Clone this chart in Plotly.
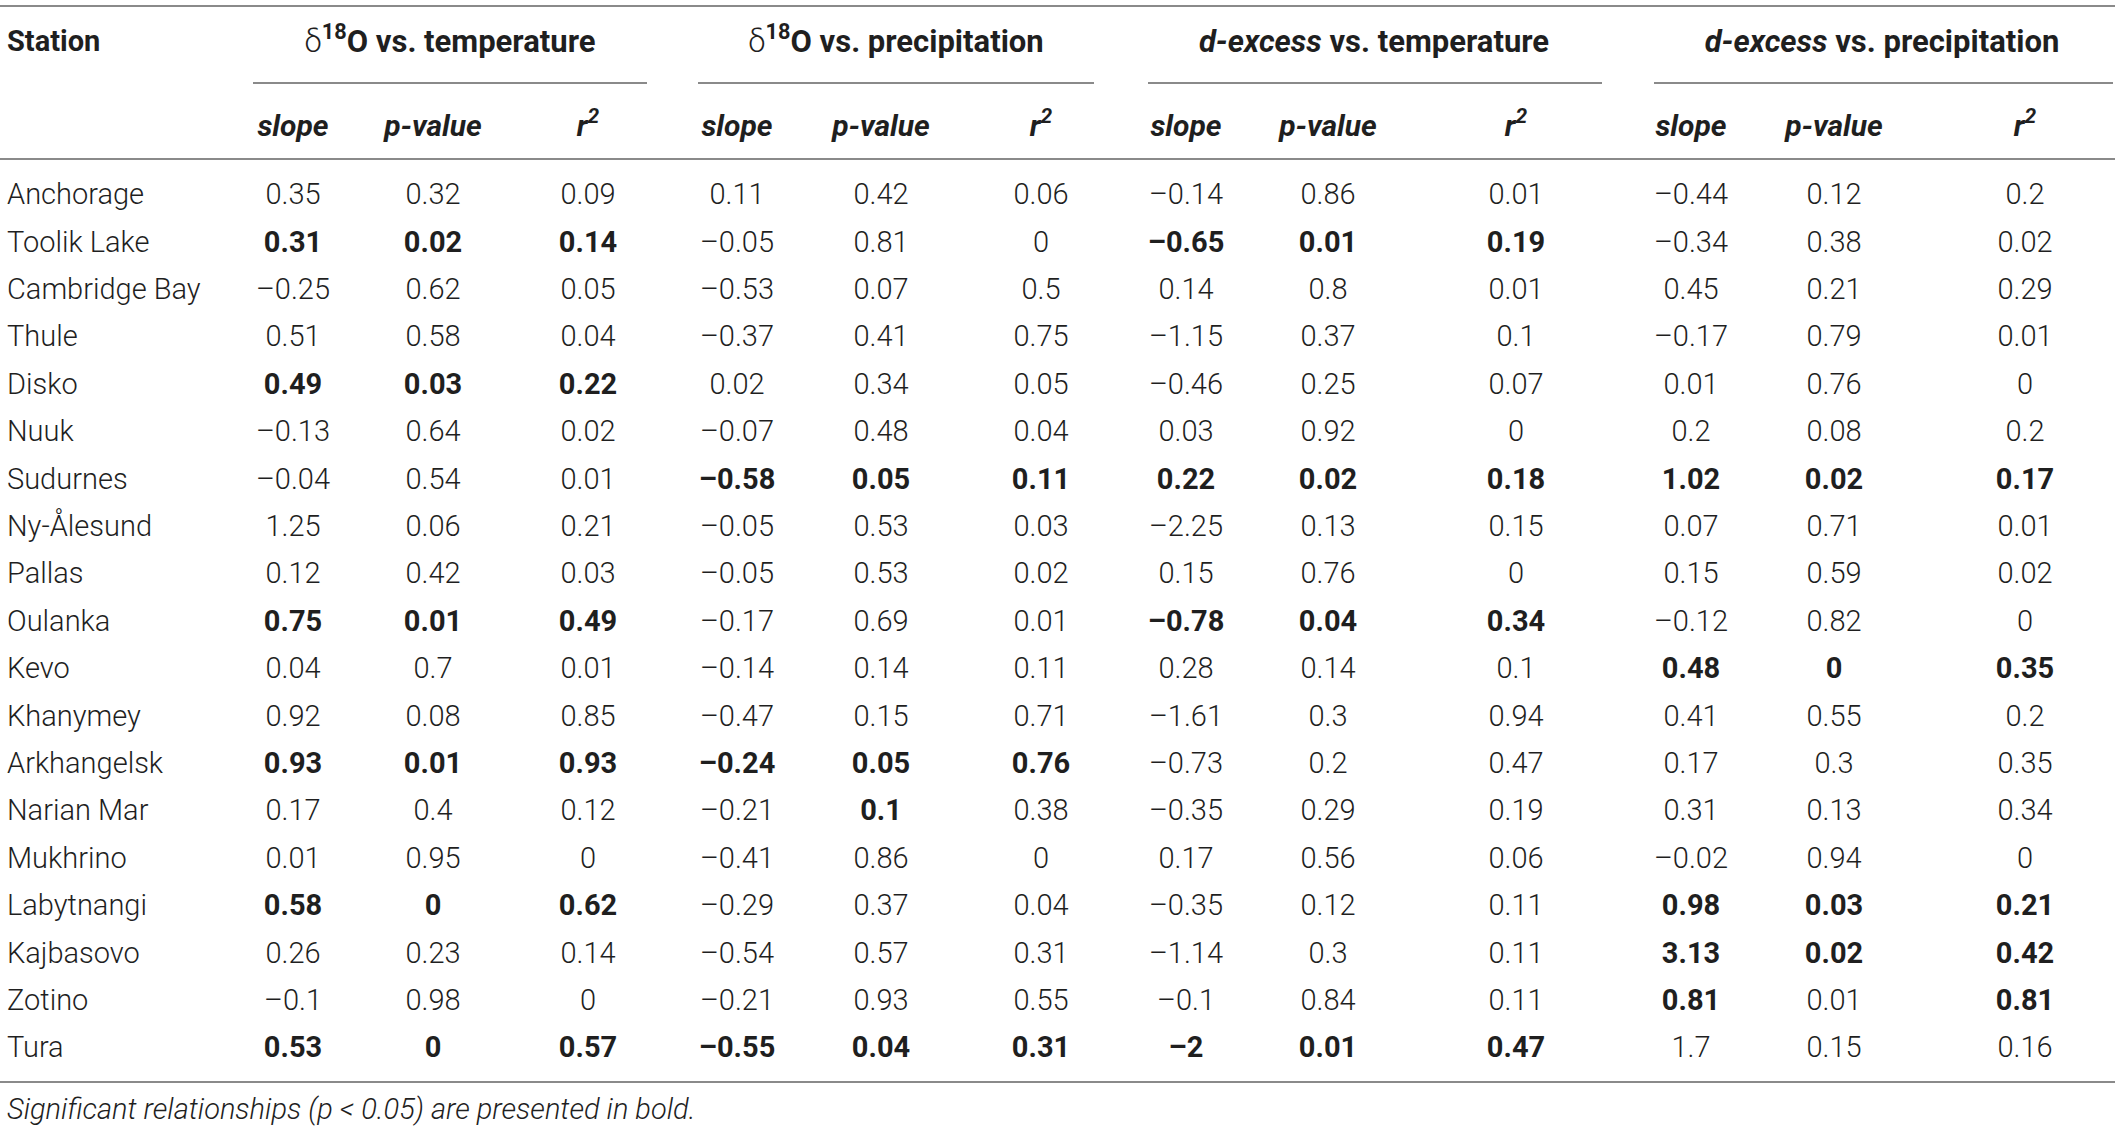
import plotly.graph_objects as go

# ---------------- data ----------------
stations = ["Anchorage", "Toolik Lake", "Cambridge Bay", "Thule", "Disko", "Nuuk",
            "Sudurnes", "Ny-Ålesund", "Pallas", "Oulanka", "Kevo", "Khanymey",
            "Arkhangelsk", "Narian Mar", "Mukhrino", "Labytnangi", "Kajbasovo",
            "Zotino", "Tura"]

group_titles = ["<span style='font-weight:300'>δ</span><b><sup>18</sup>O vs. temperature</b>",
                "<span style='font-weight:300'>δ</span><b><sup>18</sup>O vs. precipitation</b>",
                "<b><i>d-excess</i> vs. temperature</b>",
                "<b><i>d-excess</i> vs. precipitation</b>"]
sub_titles = ["slope", "p-value", "r<sup>2</sup>"]
footnote = "Significant relationships (p &lt; 0.05) are presented in bold."

# δ18O vs temperature
o_t_slope = [0.35, 0.31, -0.25, 0.51, 0.49, -0.13, -0.04, 1.25, 0.12, 0.75, 0.04, 0.92, 0.93, 0.17, 0.01, 0.58, 0.26, -0.1, 0.53]
o_t_p     = [0.32, 0.02, 0.62, 0.58, 0.03, 0.64, 0.54, 0.06, 0.42, 0.01, 0.7, 0.08, 0.01, 0.4, 0.95, 0, 0.23, 0.98, 0]
o_t_r2    = [0.09, 0.14, 0.05, 0.04, 0.22, 0.02, 0.01, 0.21, 0.03, 0.49, 0.01, 0.85, 0.93, 0.12, 0, 0.62, 0.14, 0, 0.57]
# δ18O vs precipitation
o_p_slope = [0.11, -0.05, -0.53, -0.37, 0.02, -0.07, -0.58, -0.05, -0.05, -0.17, -0.14, -0.47, -0.24, -0.21, -0.41, -0.29, -0.54, -0.21, -0.55]
o_p_p     = [0.42, 0.81, 0.07, 0.41, 0.34, 0.48, 0.05, 0.53, 0.53, 0.69, 0.14, 0.15, 0.05, 0.1, 0.86, 0.37, 0.57, 0.93, 0.04]
o_p_r2    = [0.06, 0, 0.5, 0.75, 0.05, 0.04, 0.11, 0.03, 0.02, 0.01, 0.11, 0.71, 0.76, 0.38, 0, 0.04, 0.31, 0.55, 0.31]
# d-excess vs temperature
d_t_slope = [-0.14, -0.65, 0.14, -1.15, -0.46, 0.03, 0.22, -2.25, 0.15, -0.78, 0.28, -1.61, -0.73, -0.35, 0.17, -0.35, -1.14, -0.1, -2]
d_t_p     = [0.86, 0.01, 0.8, 0.37, 0.25, 0.92, 0.02, 0.13, 0.76, 0.04, 0.14, 0.3, 0.2, 0.29, 0.56, 0.12, 0.3, 0.84, 0.01]
d_t_r2    = [0.01, 0.19, 0.01, 0.1, 0.07, 0, 0.18, 0.15, 0, 0.34, 0.1, 0.94, 0.47, 0.19, 0.06, 0.11, 0.11, 0.11, 0.47]
# d-excess vs precipitation
d_p_slope = [-0.44, -0.34, 0.45, -0.17, 0.01, 0.2, 1.02, 0.07, 0.15, -0.12, 0.48, 0.41, 0.17, 0.31, -0.02, 0.98, 3.13, 0.81, 1.7]
d_p_p     = [0.12, 0.38, 0.21, 0.79, 0.76, 0.08, 0.02, 0.71, 0.59, 0.82, 0, 0.55, 0.3, 0.13, 0.94, 0.03, 0.02, 0.01, 0.15]
d_p_r2    = [0.2, 0.02, 0.29, 0.01, 0, 0.2, 0.17, 0.01, 0.02, 0, 0.35, 0.2, 0.35, 0.34, 0, 0.21, 0.42, 0.81, 0.16]

# bold flags (1 = presented in bold) per column, same order as the columns
bold_o_t = [[0,1,0,0,1,0,0,0,0,1,0,0,1,0,0,1,0,0,1]] * 3
bold_o_p_slope = [0,0,0,0,0,0,1,0,0,0,0,0,1,0,0,0,0,0,1]
bold_o_p_p     = [0,0,0,0,0,0,1,0,0,0,0,0,1,1,0,0,0,0,1]
bold_o_p_r2    = [0,0,0,0,0,0,1,0,0,0,0,0,1,0,0,0,0,0,1]
bold_d_t = [[0,1,0,0,0,0,1,0,0,1,0,0,0,0,0,0,0,0,1]] * 3
bold_d_p_slope = [0,0,0,0,0,0,1,0,0,0,1,0,0,0,0,1,1,1,0]
bold_d_p_p     = [0,0,0,0,0,0,1,0,0,0,1,0,0,0,0,1,1,0,0]
bold_d_p_r2    = [0,0,0,0,0,0,1,0,0,0,1,0,0,0,0,1,1,1,0]

columns = [o_t_slope, o_t_p, o_t_r2, o_p_slope, o_p_p, o_p_r2,
           d_t_slope, d_t_p, d_t_r2, d_p_slope, d_p_p, d_p_r2]
bolds = bold_o_t + [bold_o_p_slope, bold_o_p_p, bold_o_p_r2] + bold_d_t + \
        [bold_d_p_slope, bold_d_p_p, bold_d_p_r2]

# ---------------- layout constants (pixel units) ----------------
W, H = 2118, 1130
FONT = "Roboto, Liberation Sans, Arial, sans-serif"
TXT = "#1f1f1f"
LINE = "#8a8a8a"
FS = 29

col_x = [293, 433, 588, 737, 881, 1041, 1186, 1328, 1516, 1691, 1834, 2025]
group_x = [450, 896, 1374, 1882]
group_lines = [(253, 647), (698, 1094), (1148, 1602), (1654, 2113)]
row0, row_h = 197, 47.4
y_group, y_sub = 44, 128
y_top, y_under, y_head, y_bottom, y_foot = 6, 83, 159, 1082, 1112
x_station = 7


def fmt(v):
    s = f"{abs(v):g}"
    return ("–" + s) if v < 0 else s


row_y = [row0 + i * row_h for i in range(len(stations))]

fig = go.Figure()

# station names
fig.add_trace(go.Scatter(
    x=[x_station] * len(stations), y=row_y, mode="text", text=stations,
    textposition="middle right", hoverinfo="skip",
    textfont=dict(family=FONT, size=FS, color=TXT, weight=300)))

# numeric cells
for cx, vals, b in zip(col_x, columns, bolds):
    texts = [("<b>%s</b>" % fmt(v)) if bb else fmt(v) for v, bb in zip(vals, b)]
    fig.add_trace(go.Scatter(
        x=[cx] * len(vals), y=row_y, mode="text", text=texts,
        textposition="middle center", hoverinfo="skip",
        textfont=dict(family=FONT, size=FS, color=TXT, weight=300)))

# header: Station + group titles
fig.add_trace(go.Scatter(
    x=[x_station], y=[y_group], mode="text", text=["Station"],
    textposition="middle right", hoverinfo="skip",
    textfont=dict(family=FONT, size=FS, color=TXT, weight="bold")))
fig.add_trace(go.Scatter(
    x=group_x, y=[y_group] * 4, mode="text", text=group_titles,
    textposition="middle center", hoverinfo="skip",
    textfont=dict(family=FONT, size=FS + 2, color=TXT)))
# sub headers
fig.add_trace(go.Scatter(
    x=col_x, y=[y_sub] * len(col_x), mode="text",
    text=sub_titles * 4,
    textposition="middle center", hoverinfo="skip",
    textfont=dict(family=FONT, size=FS + 1, color=TXT, weight="bold", style="italic")))
# footnote
fig.add_trace(go.Scatter(
    x=[x_station], y=[y_foot], mode="text", text=[footnote],
    textposition="middle right", hoverinfo="skip",
    textfont=dict(family=FONT, size=FS, color=TXT, weight=300, style="italic")))

# rules
shapes = []
for yy in (y_top, y_head, y_bottom):
    shapes.append(dict(type="line", xref="x", yref="y", x0=0, x1=2115, y0=yy, y1=yy,
                       line=dict(color=LINE, width=2)))
for x0, x1 in group_lines:
    shapes.append(dict(type="line", xref="x", yref="y", x0=x0, x1=x1, y0=y_under, y1=y_under,
                       line=dict(color=LINE, width=2)))

fig.update_layout(
    width=W, height=H, margin=dict(l=0, r=0, t=0, b=0),
    paper_bgcolor="white", plot_bgcolor="white", showlegend=False,
    shapes=shapes,
    xaxis=dict(range=[0, W], visible=False, fixedrange=True),
    yaxis=dict(range=[H, 0], visible=False, fixedrange=True),
)

fig.write_html("out.html", config={"displayModeBar": False},
               post_script="document.body.style.margin='0px';document.body.style.overflow='hidden';")
